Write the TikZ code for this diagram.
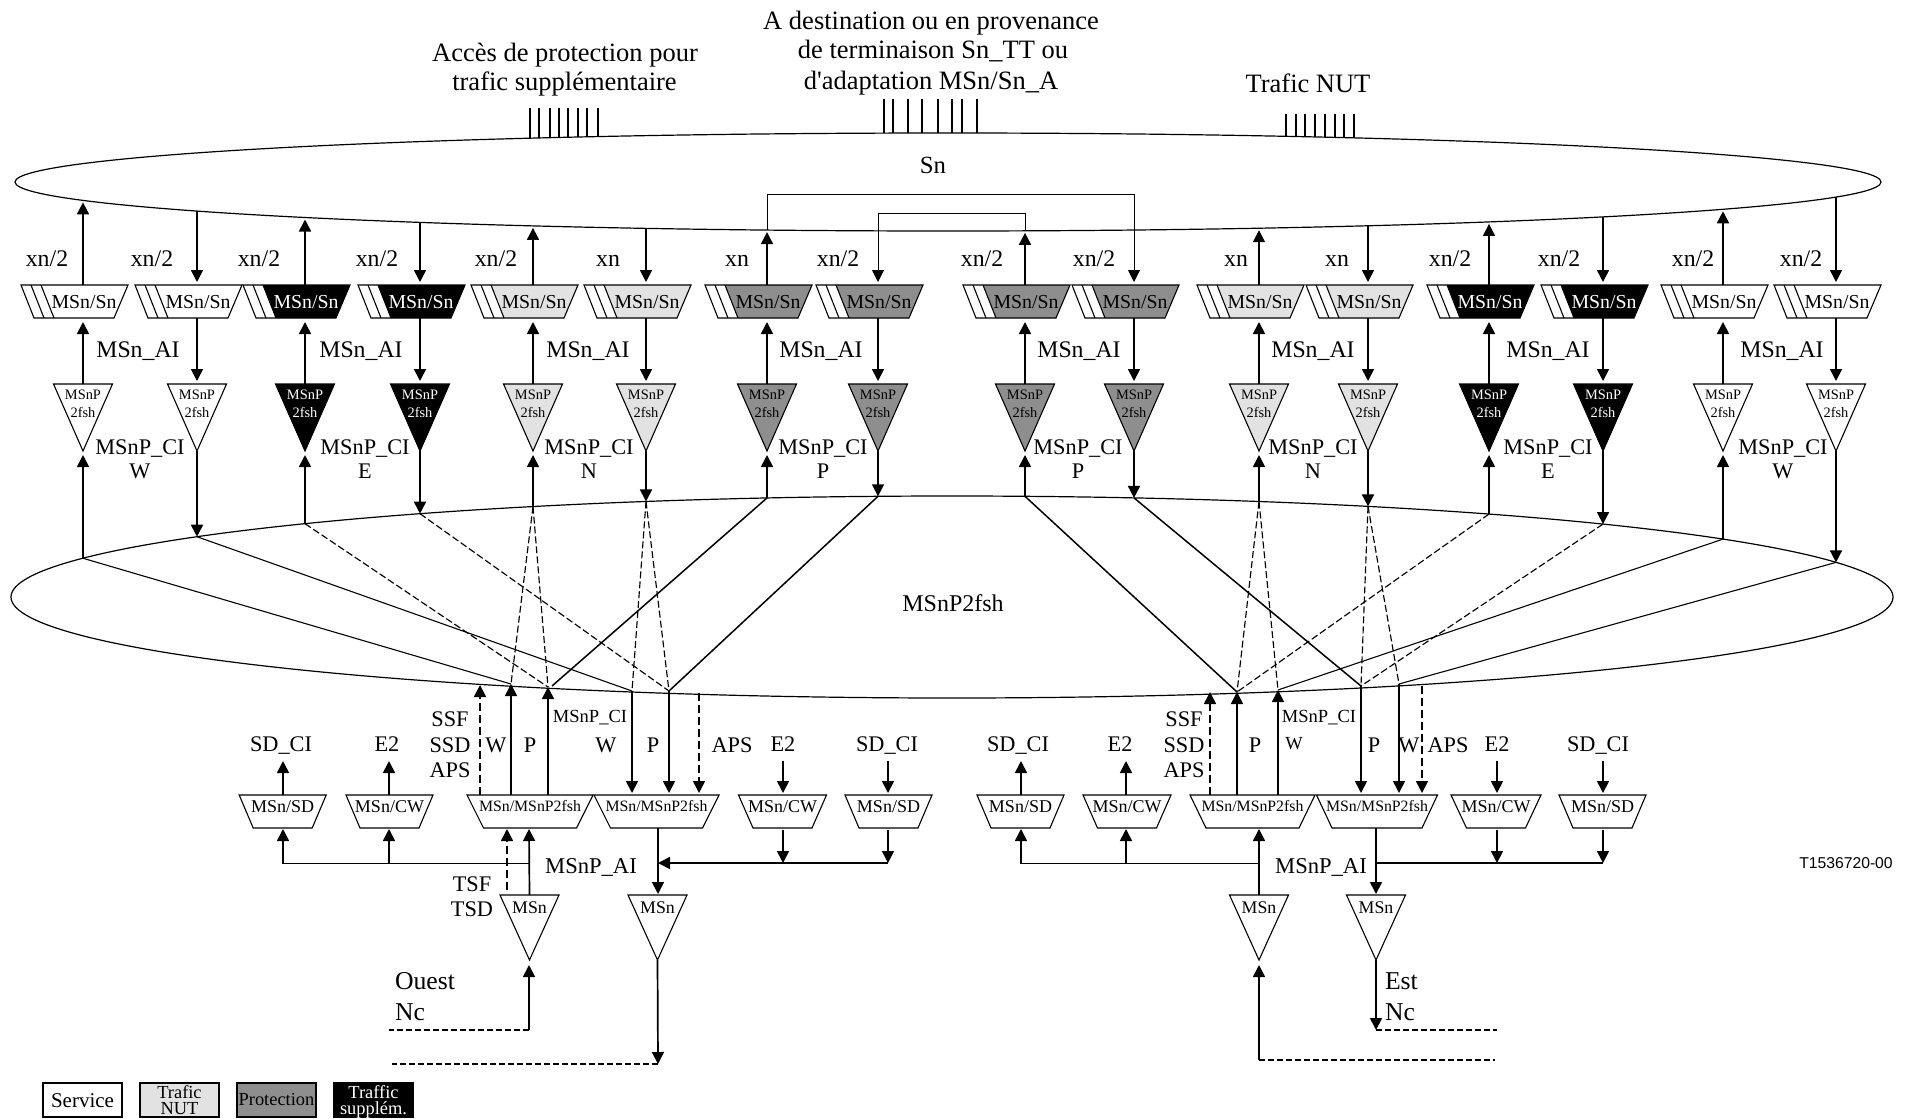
\documentclass[tikz,border=0pt]{standalone}
\usepackage{fontspec}
\setmainfont{Liberation Serif}
\newfontfamily\labelsans{Liberation Sans}
\newfontfamily\plainserif{Liberation Serif}
\usetikzlibrary{arrows.meta,shapes.geometric}
\definecolor{nutgray}{HTML}{E2E2E2}
\definecolor{protgray}{HTML}{8E8E8E}
\newcommand{\fs}[1]{\fontsize{#1}{#1}\selectfont}
\tikzset{
  thickl/.style={line width=1.7pt},
  thinl/.style={line width=1pt},
  arr/.style={thickl,-{Triangle[width=12pt,length=12pt]}},
  thinarr/.style={thinl,-{Triangle[width=12pt,length=12pt]}},
  dasharr/.style={arr,dash pattern=on 8pt off 4pt},
  bus/.style={draw,ellipse,line width=1.2pt,inner sep=0pt,outer sep=0pt},
  wire/.style={line width=1.1pt},
  heavywire/.style={line width=1.5pt},
  dashwire/.style={line width=1.15pt,dash pattern=on 7pt off 3pt},
  feeder/.style={thickl,dash pattern=on 6pt off 3pt},
  boxline/.style={line width=1.1pt,line join=miter},
  txt/.style={anchor=base,inner sep=0pt,outer sep=0pt},
  big/.style={txt,font=\fs{26.5}},
  mid/.style={txt,font=\fs{23.8}},
  cil/.style={txt,font=\fs{22.3}},
  tiny/.style={txt,font=\fs{14.4}},
  ssl/.style={txt,font=\fs{19.8}},
  leg/.style={txt,font=\fs{18.4}},
}
\newcommand{\lowtrap}[6]{%
  \draw[boxline] ({#2-#3},795) -- ({#2+#3},795) -- ({#2+#4},828) -- ({#2-#4},828) -- cycle;
  \node[txt,font=\fs{#5}] (#1) at (#2,{800.75+0.68*#5}) {#6};
  \coordinate (#1b) at (#2,828);
}
\newcommand{\msntri}[2]{%
  \draw[boxline] ({#2-29.5},895) -- ({#2+29.5},895) -- (#2,960) -- cycle;
  \node[txt,font=\fs{17.8}] (#1) at (#2,913) {MSn};
  \coordinate (#1t) at (#2,895);
  \coordinate (#1p) at (#2,960);
}
\begin{document}
\begin{tikzpicture}[x=1pt,y=-1pt,
  declare function={
    snB(\q)=182+49*sqrt(1-((\q-948)/933)^2);
    snT(\q)=182-49*sqrt(1-((\q-948)/933)^2);
    pT(\q)=597-101*sqrt(1-((\q-952)/941)^2);
  }]
\useasboundingbox[fill=white] (0,0) rectangle (1907,1119);

% the two matrices
\node[bus,minimum width=1866pt,minimum height=98pt] (busSn) at (948,182) {};
\node[bus,minimum width=1882pt,minimum height=202pt] (busP) at (952,597) {};
\node[txt,font=\fs{24.7}] (snlabel) at (933,173) {Sn};
\node[txt,font=\fs{24}] (plabel) at (953,611) {MSnP2fsh};

% top labels
\node[big] (t1) at (565,61) {Accès de protection pour};
\node[big] (t2) at (564.5,90) {trafic supplémentaire};
\node[big] (t3) at (931,29) {A destination ou en provenance};
\node[big] (t4) at (933,58) {de terminaison Sn\_TT ou};
\node[big,font=\fs{26.5}\plainserif] (t5) at (931,89) {d'adaptation MSn/Sn\_A};
\node[big] (t6) at (1308,92) {Trafic NUT};

% access ticks
\foreach \x in {530,539,550,559,568,578,587,598}
  \draw[wire] (\x,108) -- ({\x},{snT(\x)});
\foreach \x in {884,893,908,922,938,952,962,977}
  \draw[wire] (\x,99) -- ({\x},{snT(\x)});
\foreach \x in {1286,1296,1305,1315,1325,1335,1344,1354}
  \draw[wire] (\x,114) -- ({\x},{snT(\x)});

% columns of adaptation and termination functions
\foreach \i/\x/\f/\t in {
  1/83/white/black,2/197/white/black,3/305/black/white,4/420/black/white,
  5/533/nutgray/black,6/646/nutgray/black,7/767/protgray/black,8/878/protgray/black,
  9/1025/protgray/black,10/1134/protgray/black,11/1259/nutgray/black,12/1368/nutgray/black,
  13/1489/black/white,14/1603/black/white,15/1723/white/black,16/1836/white/black}{
  \fill[\f] ({\x-42},285) -- ({\x+45},285) -- ({\x+31},318) -- ({\x-29},318) -- cycle;
  \draw[boxline] ({\x-62},285) -- ({\x+45},285) -- ({\x+31},318) -- ({\x-49},318) -- cycle;
  \draw[boxline] ({\x-52},285) -- ({\x-39},318);
  \draw[boxline] ({\x-42},285) -- ({\x-29},318);
  \node[ssl,text=\t] (ss\i) at ({\x+1},308.5) {MSn/Sn};
  \draw[boxline,fill=\f] ({\x-29.5},384) -- ({\x+29.5},384) -- (\x,451) -- cycle;
  \node[tiny,text=\t] (tpA\i) at (\x,399) {MSnP};
  \node[tiny,text=\t] (tpB\i) at (\x,417) {2fsh};
  \coordinate (sn\i) at ({\x},{snB(\x)});
  \coordinate (snu\i) at ({\x},{snB(\x)+2});
  \coordinate (ssT\i) at (\x,285);
  \coordinate (ssTd\i) at (\x,282);
  \coordinate (ssB\i) at (\x,318);
  \coordinate (ssBu\i) at (\x,322);
  \coordinate (tpT\i) at (\x,384);
  \coordinate (tpTd\i) at (\x,381);
  \coordinate (tpP\i) at (\x,451);
  \coordinate (tpPu\i) at (\x,455);
  \coordinate (pb\i) at ({\x},{pT(\x)});
}
% upward columns
\foreach \i in {1,3,5,7,9,11,13,15}{
  \draw[arr] (ssT\i) -- (snu\i);
  \draw[arr] (tpT\i) -- (ssBu\i);
}
\foreach \i in {1,3,5,7,9,11,13,15}
  \draw[arr] (pb\i) -- (tpPu\i);
% downward columns
\foreach \i in {2,4,6,12,14,16}
  \draw[arr] (sn\i) -- (ssTd\i);
\foreach \i in {2,4,6,8,10,12,14,16}{
  \draw[arr] (ssB\i) -- (tpTd\i);
  \draw[arr] (tpP\i) -- (pb\i);
}
% connections looped over Sn
\coordinate (loopA) at (767,194.5);
\coordinate (loopB) at (1134,194.5);
\coordinate (loopC) at (1025,213.5);
\coordinate (loopD) at (878,213.5);
\draw[thinarr] (sn7) -- (loopA) -- (loopB) -- (ssTd10);
\draw[thinarr] (sn9) -- (loopC) -- (loopD) -- (ssTd8);

% labels on the columns
\foreach \n/\x/\s in {a/47/xn\slash 2,b/152/xn\slash 2,c/259/xn\slash 2,d/377/xn\slash 2,e/496/xn\slash 2,f/608/xn,
  g/737/xn,h/838/xn\slash 2,i/982/xn\slash 2,j/1094/xn\slash 2,k/1236/xn,l/1337/xn,m/1450/xn\slash 2,o/1559/xn\slash 2,p/1693/xn\slash 2,q/1801/xn\slash 2}
  \node[mid] (xn\n) at (\x,266) {\s};
\foreach \n/\x in {a/138,b/361,c/588,d/821,e/1079,f/1313,g/1548,h/1782}
  \node[mid] (ai\n) at (\x,357) {MSn\_AI};
\foreach \n/\x/\s in {a/140/W,b/365/E,c/589/N,d/823/P,e/1078/P,f/1313/N,g/1548/E,h/1783/W}{
  \node[cil] (ci\n) at (\x,454) {MSnP\_CI};
  \node[cil] (cj\n) at (\x,478) {\s};
}

% junctions on the lower edge of MSnP2fsh
\coordinate (ja) at (511,684);
\coordinate (jb) at (548,687);
\coordinate (jbb) at (552,686);
\coordinate (jc) at (632,691);
\coordinate (jd) at (669,691);
\coordinate (je) at (1237,692);
\coordinate (jf) at (1278,690);
\coordinate (jg) at (1361,686);
\coordinate (jh) at (1399,684);

\draw[wire] (pb1) -- (ja);
\draw[wire] (pb2) -- (jc);
\draw[dashwire] (pb3) -- (jb);
\draw[dashwire] (pb4) -- (jd);
\draw[dashwire] (pb5) -- (ja);
\draw[dashwire] (pb5) -- (jb);
\draw[dashwire] (pb6) -- (jc);
\draw[dashwire] (pb6) -- (jd);
\draw[heavywire] (pb7) -- (jbb);
\draw[heavywire] (pb8) -- (jd);
\draw[heavywire] (pb9) -- (je);
\draw[heavywire] (pb10) -- (jg);
\draw[dashwire] (pb11) -- (je);
\draw[dashwire] (pb11) -- (jf);
\draw[dashwire] (pb12) -- (jg);
\draw[dashwire] (pb12) -- (jh);
\draw[dashwire] (pb13) -- (je);
\draw[dashwire] (pb14) -- (jg);
\draw[wire] (pb15) -- (jf);
\draw[wire] (pb16) -- (jh);

% lower row of functions
\lowtrap{sdA}{282.7}{43.5}{29.5}{18}{MSn/SD}
\lowtrap{cwA}{389.5}{43.5}{29.5}{18}{MSn/CW}
\lowtrap{pA}{530}{63}{46.5}{15.8}{MSn/MSnP2fsh}
\lowtrap{pB}{656.5}{62.5}{46}{15.8}{MSn/MSnP2fsh}
\lowtrap{cwB}{782.5}{44}{29.5}{18}{MSn/CW}
\lowtrap{sdB}{888.5}{43.5}{29.5}{18}{MSn/SD}
\lowtrap{sdC}{1020.5}{43.5}{29.5}{18}{MSn/SD}
\lowtrap{cwC}{1127}{44}{29.5}{18}{MSn/CW}
\lowtrap{pC}{1252.5}{62.5}{46.5}{15.8}{MSn/MSnP2fsh}
\lowtrap{pD}{1377}{60.5}{45}{15.8}{MSn/MSnP2fsh}
\lowtrap{cwD}{1496}{45}{29.5}{18}{MSn/CW}
\lowtrap{sdD}{1602.5}{43.5}{29.5}{18}{MSn/SD}

% vertical connections between row and MSnP2fsh
\coordinate (ra) at (480,795);   \coordinate (sa) at (480,685);
\coordinate (rb) at (511,795);
\coordinate (rc) at (548,795);
\coordinate (rd) at (632,793);
\coordinate (re) at (669,793);
\coordinate (rf) at (699,793);   \coordinate (sf) at (699,693);
\coordinate (rg) at (1210,795);  \coordinate (sg) at (1210,692);
\coordinate (rh) at (1237,795);
\coordinate (ri) at (1278,795);
\coordinate (rj) at (1361,793);
\coordinate (rk) at (1399,793);
\coordinate (rl) at (1422,793);  \coordinate (sl) at (1422,686);
\draw[dasharr] (ra) -- (sa);
\draw[arr] (rb) -- (ja);
\draw[arr] (rc) -- (jb);
\draw[arr] (jc) -- (rd);
\draw[arr] (jd) -- (re);
\draw[dasharr] (sf) -- (rf);
\draw[dasharr] (rg) -- (sg);
\draw[arr] (rh) -- (je);
\draw[arr] (ri) -- (jf);
\draw[arr] (jg) -- (rj);
\draw[arr] (jh) -- (rk);
\draw[dasharr] (sl) -- (rl);

% small signals above the row
\foreach \n/\x in {a/283,b/389,e/1021,f/1126}{
  \coordinate (cb\n) at (\x,795);
  \coordinate (ct\n) at (\x,761);
  \draw[arr] (cb\n) -- (ct\n);
}
\foreach \n/\x in {c/783,d/888,g/1497,h/1603}{
  \coordinate (cb\n) at (\x,793);
  \coordinate (ct\n) at (\x,761);
  \draw[arr] (ct\n) -- (cb\n);
}
\foreach \n/\x/\s in {a/281/SD\_CI,b/387/E2,c/783/E2,d/887/SD\_CI,e/1018/SD\_CI,f/1120/E2,g/1497/E2,h/1598/SD\_CI}
  \node[cil] (sc\n) at (\x,751) {\s};
\foreach \n/\x/\s in {a/496/W,b/530/P,c/606/W,d/653/P,e/732/APS,f/1255/P,g/1374/P,h/1409/W,i/1448/APS}
  \node[cil] (sig\n) at (\x,752) {\s};
\node[txt,font=\fs{18.5}] (sigj) at (1294,749) {W};
\foreach \n/\x in {a/450,b/1184}{
  \node[cil] (ssf\n) at (\x,726) {SSF};
  \node[cil] (ssd\n) at (\x,752) {SSD};
  \node[cil] (aps\n) at (\x,777) {APS};
}
\node[txt,font=\fs{18.5}] (cismA) at (590,722) {MSnP\_CI};
\node[txt,font=\fs{18.5}] (cismB) at (1319,722) {MSnP\_CI};

% trail termination functions
\msntri{ta}{529.5}
\msntri{tb}{657.5}
\msntri{tc}{1259}
\msntri{td}{1376}

% MSnP_AI buses, left pair
\coordinate (ua) at (529,863.5);
\coordinate (ub) at (283,863.5);
\coordinate (uc) at (389,863.5);
\coordinate (ud) at (283,829);
\coordinate (ue) at (389,829);
\coordinate (uf) at (529,829);
\coordinate (ug) at (507,890);
\coordinate (uh) at (507,829);
\draw[wire] (ua) -- (ub);
\draw[arr] (ub) -- (ud);
\draw[arr] (uc) -- (ue);
\draw[arr] (tat) -- (uf);
\draw[dasharr] (ug) -- (uh);

\coordinate (va) at (658,828);
\coordinate (vb) at (658,894);
\coordinate (vc) at (658,863);
\coordinate (vd) at (783,830);
\coordinate (ve) at (783,863);
\coordinate (vf) at (888,830);
\coordinate (vg) at (888,863);
\draw[arr] (va) -- (vb);
\draw[arr] (vg) -- (vc);
\draw[arr] (vd) -- (ve);
\draw[arr] (vf) -- (vg);

% right pair
\coordinate (wa) at (1259,863.5);
\coordinate (wb) at (1021,863.5);
\coordinate (wc) at (1126,863.5);
\coordinate (wd) at (1021,829);
\coordinate (we) at (1126,829);
\coordinate (wf) at (1259,829);
\draw[wire] (wa) -- (wb);
\draw[arr] (wb) -- (wd);
\draw[arr] (wc) -- (we);
\draw[arr] (tct) -- (wf);

\coordinate (xa) at (1376,828);
\coordinate (xb) at (1376,894);
\coordinate (xc) at (1376,863);
\coordinate (xd) at (1497,830);
\coordinate (xe) at (1497,863);
\coordinate (xf) at (1603,830);
\coordinate (xg) at (1603,863);
\draw[arr] (xa) -- (xb);
\draw[thickl] (xc) -- (xg);
\draw[arr] (xd) -- (xe);
\draw[arr] (xf) -- (xg);

\node[txt,font=\fs{22.6}] (aiA) at (591,873) {MSnP\_AI};
\node[txt,font=\fs{22.6}] (aiB) at (1321,873) {MSnP\_AI};
\node[cil] (tsf) at (472,891) {TSF};
\node[cil] (tsd) at (472,916) {TSD};

% Nc feeds
\coordinate (na) at (529,1030);
\coordinate (nb) at (529,965);
\coordinate (nc) at (389,1030);
\draw[arr] (na) -- (nb);
\draw[feeder] (na) -- (nc);
\coordinate (nd) at (658,1064);
\coordinate (ne) at (392,1064);
\draw[arr] (tbp) -- (nd);
\draw[feeder] (nd) -- (ne);
\coordinate (nf) at (1259,1060);
\coordinate (ng) at (1259,965);
\coordinate (nh) at (1495,1060);
\draw[arr] (nf) -- (ng);
\draw[feeder] (nf) -- (nh);
\coordinate (ni) at (1376,1030);
\coordinate (nj) at (1497,1030);
\draw[arr] (tdp) -- (ni);
\draw[feeder] (ni) -- (nj);

\node[txt,anchor=base west,font=\fs{25.7}] (ouest) at (395,989) {Ouest};
\node[txt,anchor=base west,font=\fs{25.7}] (ncA) at (395,1020) {Nc};
\node[txt,anchor=base west,font=\fs{25.7}] (est) at (1385,989) {Est};
\node[txt,anchor=base west,font=\fs{25.7}] (ncB) at (1385,1020) {Nc};

\node[txt,font=\labelsans\fs{15.7}] (ref) at (1846,868.5) {T1536720-00};

% legend
\draw[boxline,fill=white] (43,1083) rectangle (122,1117);
\node[txt,font=\fs{21}] (lgA) at (82.5,1107) {Service};
\draw[boxline,fill=nutgray] (140,1083) rectangle (219,1117);
\node[leg] (lgB) at (179.5,1098) {Trafic};
\node[leg] (lgC) at (179.5,1114) {NUT};
\draw[boxline,fill=protgray] (237,1083) rectangle (316,1117);
\node[leg] (lgD) at (276.5,1105) {Protection};
\draw[boxline,fill=black] (334,1083) rectangle (413,1117);
\node[leg,text=white] (lgE) at (373.5,1098) {Traffic};
\node[leg,text=white] (lgF) at (373.5,1114) {supplém.};
\end{tikzpicture}
\end{document}
